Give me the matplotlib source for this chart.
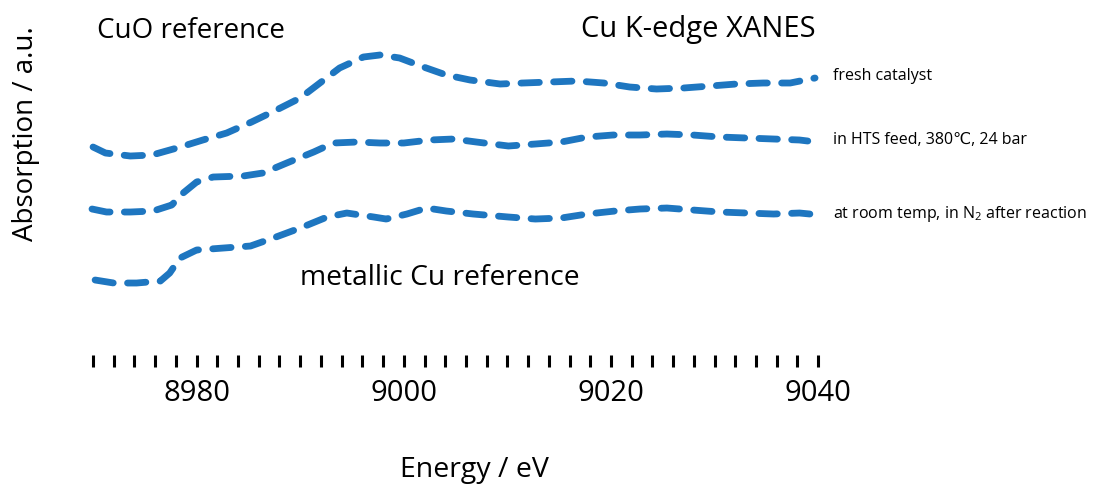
import matplotlib
matplotlib.use("Agg")
import matplotlib.pyplot as plt

plt.rcParams['font.family'] = ['Open Sans', 'DejaVu Sans']
plt.rcParams['mathtext.fontset'] = 'custom'
plt.rcParams['mathtext.rm'] = 'Open Sans'
plt.rcParams['mathtext.it'] = 'Open Sans'

# energies (eV) and absorption (a.u., stacked)
e_fresh = [8970.0, 8971.2, 8973.6, 8975.7, 8978.1, 8980.6, 8982.9, 8985.3, 8987.7,
           8990.0, 8991.9, 8993.8, 8996.1, 8997.7, 8999.6, 9001.9, 9004.1, 9006.4,
           9009.3, 9011.5, 9014.1, 9016.7, 9019.3, 9021.8, 9024.4, 9027.0, 9029.6,
           9032.1, 9034.7, 9037.3, 9039.7]
a_fresh = [1.53, 1.47, 1.44, 1.45, 1.52, 1.60, 1.67, 1.78, 1.90,
           2.02, 2.17, 2.32, 2.43, 2.45, 2.42, 2.33, 2.25, 2.20,
           2.16, 2.17, 2.18, 2.19, 2.17, 2.13, 2.11, 2.12, 2.14,
           2.16, 2.17, 2.17, 2.22]

e_hts = [8969.9, 8971.3, 8973.6, 8975.8, 8977.6, 8978.7, 8980.0, 8981.6, 8984.5,
         8986.4, 8988.7, 8991.3, 8993.2, 8995.5, 8997.7, 9000.0, 9002.5, 9004.8,
         9007.0, 9010.1, 9012.7, 9015.2, 9017.7, 9020.2, 9022.8, 9025.4, 9027.9,
         9030.5, 9033.1, 9035.7, 9038.2, 9039.0]
a_hts = [0.91, 0.88, 0.88, 0.89, 0.95, 1.07, 1.18, 1.23, 1.24,
         1.27, 1.37, 1.48, 1.57, 1.58, 1.57, 1.57, 1.60, 1.61,
         1.58, 1.54, 1.56, 1.58, 1.63, 1.65, 1.65, 1.66, 1.65,
         1.63, 1.62, 1.61, 1.60, 1.59]

e_after = [8970.2, 8972.0, 8974.2, 8976.5, 8977.4, 8978.4, 8980.0, 8982.6, 8985.2,
           8987.4, 8990.0, 8992.6, 8994.5, 8997.1, 8998.3, 9000.3, 9002.2, 9004.1,
           9006.7, 9010.1, 9012.7, 9015.2, 9017.7, 9020.4, 9022.8, 9025.4, 9027.9,
           9030.5, 9033.1, 9035.7, 9038.2, 9039.2]
a_after = [0.20, 0.17, 0.17, 0.19, 0.27, 0.42, 0.50, 0.52, 0.54,
           0.62, 0.72, 0.83, 0.87, 0.83, 0.81, 0.86, 0.92, 0.89,
           0.86, 0.83, 0.81, 0.82, 0.86, 0.89, 0.91, 0.92, 0.90,
           0.88, 0.87, 0.86, 0.87, 0.86]

labels = ["fresh catalyst", "in HTS feed, 380℃, 24 bar", "at room temp, in N$_2$ after reaction"]
label_y = [2.24, 1.60, 0.86]

tick_pos = list(range(8970, 9041, 2))
labelled = [8980, 9000, 9020, 9040]

color = '#1e76c0'

fig = plt.figure(figsize=(10.94, 4.87), dpi=100)
ax = fig.add_axes([0.0661, 0.2710, 0.7007, 0.7290])

for e, a in [(e_fresh, a_fresh), (e_hts, a_hts), (e_after, a_after)]:
    ax.plot(e, a, color=color, lw=4.9, ls=(0, (2.7, 2.1)),
            dash_capstyle='round', solid_capstyle='round')

for lab, y in zip(labels, label_y):
    ax.text(9041.4, y, lab, fontsize=11.5, va='center', ha='left')

ax.text(0.0318, 0.892, "CuO reference", transform=ax.transAxes, fontsize=20, va='baseline')
ax.text(0.6635, 0.895, "Cu K-edge XANES", transform=ax.transAxes, fontsize=21, va='baseline')
ax.text(0.297, 0.197, "metallic Cu reference", transform=ax.transAxes, fontsize=20.3, va='baseline')

ax.set_xlim(8968, 9042)
ax.set_ylim(-0.55, 3.0)
ax.set_xticks(tick_pos)
ax.set_xticklabels([str(t) if t in labelled else '' for t in tick_pos])
ax.tick_params(axis='x', length=8.6, width=2.2, pad=9, labelsize=21)
ax.set_yticks([])
for s in ax.spines.values():
    s.set_visible(False)

ax.set_xlabel("Energy / eV", fontsize=20.5)
ax.xaxis.set_label_coords(0.525, -0.2845)
ax.set_ylabel("Absorption / a.u.", fontsize=20)
ax.yaxis.set_label_coords(-0.042, 0.6225)

fig.savefig("out.png", dpi=100)
